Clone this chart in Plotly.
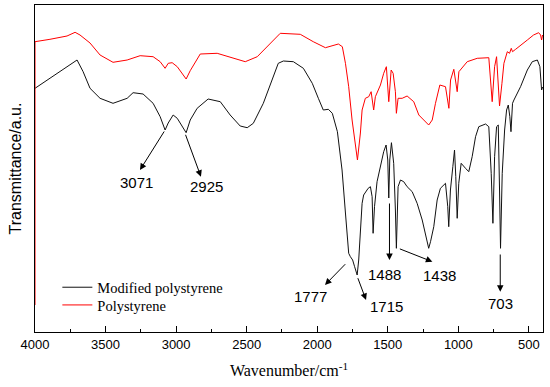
import plotly.graph_objects as go

# Polystyrene (red) spectrum: wavenumber (cm-1), transmittance (a.u.)
ps_wn = [4000, 4000, 3894, 3773, 3716, 3681, 3610, 3539, 3447, 3347, 3255, 3163, 3113, 3078, 3056, 3028,
         2992, 2957, 2929, 2900, 2851, 2829, 2709, 2595, 2510, 2425, 2354, 2262, 2120, 2028, 1942,
         1850, 1822, 1800, 1777, 1753, 1715, 1694, 1682, 1659, 1635, 1618, 1600, 1588, 1552, 1529,
         1510, 1493, 1476, 1462, 1446, 1439, 1427, 1398, 1363, 1316, 1280, 1245, 1210, 1185, 1162,
         1131, 1091, 1067, 1055, 1032, 1008, 996, 937, 866, 784, 760, 743, 729, 708, 691, 677, 653,
         637, 625, 616, 594, 559, 511, 467, 431, 417, 410, 403]
ps_t = [27, 290.3, 292.7, 296, 299.7, 297, 289, 277, 269.7, 272, 276.3, 275.3, 270.3, 263.7, 268.7, 269.3,
        265.3, 258.7, 253, 261.3, 272, 278, 278.7, 273.7, 270.3, 275.3, 285.3, 298.7, 297.7, 290.3, 284.3,
        288, 285.3, 268.7, 245.3, 212, 172, 199, 222, 233.7, 235.3, 240.3, 222, 235.3, 247, 258.7,
        265.3, 230.3, 262, 258.7, 240.3, 218.7, 233.7, 233.7, 236, 230.3, 217, 212, 207, 212, 228.7,
        247, 245.3, 223.7, 252, 262.7, 240.3, 260.3, 270.3, 273.7, 274.3, 230.3, 265.3, 275.3, 226, 248.7, 268.7, 280.3,
        278.7, 283.7, 280.3, 282.7, 287, 292, 297, 299.3, 297, 292, 297]

# Modified polystyrene (black) spectrum
mps_wn = [4000, 3894, 3773, 3702, 3659, 3610, 3539, 3447, 3347, 3305, 3234, 3163, 3113, 3078, 3056, 3021,
          2992, 2957, 2929, 2900, 2851, 2773, 2687, 2617, 2546, 2496, 2453, 2382, 2318, 2276, 2240,
          2169, 2098, 2035, 1992, 1957, 1921, 1893, 1857, 1824, 1800, 1777, 1765, 1749, 1735, 1717,
          1706, 1694, 1682, 1671, 1654, 1639, 1623, 1611, 1604, 1594, 1576, 1552, 1529, 1512, 1500,
          1493, 1486, 1474, 1458, 1446, 1439, 1427, 1410, 1387, 1363, 1327, 1292, 1256, 1233, 1221,
          1210, 1197, 1174, 1150, 1127, 1091, 1075, 1068, 1056, 1039, 1027, 1018, 1008, 997, 980,
          949, 926, 902, 878, 855, 807, 784, 767, 755, 743, 729, 717, 708, 701, 689, 672, 658, 646,
          635, 627, 616, 606, 559, 511, 476, 440, 422, 410, 403]
mps_t = [243.7, 253.7, 265.3, 272, 260.3, 243.7, 233.7, 228.7, 233.7, 239.3, 238, 228.7, 215.3, 202, 209, 217,
         213.7, 205.3, 199.3, 212, 223.7, 233, 230.3, 217, 206, 204.3, 208.7, 228.7, 252, 268.7, 271,
         270.3, 263.7, 248.7, 233.7, 222, 222.7, 218.7, 200.3, 162, 119, 78.7, 75.3, 72, 65.3, 57,
         72, 102, 128.7, 137, 140.3, 143.7, 145.3, 135.3, 98.7, 125.3, 150.3, 167, 180.3, 187, 172,
         134, 172, 189.3, 168.7, 122, 83.7, 145.3, 152, 150.3, 145.3, 140.3, 128.7, 112, 97, 88.7,
         83.7, 90.3, 105.3, 132, 143.7, 148.7, 125.3, 105.3, 142, 165.3, 182, 155.3, 113.7, 148.7, 168.7,
         163.7, 160.3, 175.3, 195.3, 205.3, 208, 205.3, 158.7, 108.7, 175.3, 205.3, 207, 142, 83.7, 158.7, 202, 222, 227,
         215.3, 200.3, 228.7, 232, 245.3, 262, 270.3, 272, 265.3, 242, 245]

# Peak annotations: label, arrow tail (on spectrum), arrow head, label position
peak_labels = ["3071", "2925", "1777", "1715", "1488", "1438", "703"]
tail_wn = [3078, 2937, 1791, 1716, 1488, 1425, 703]
tail_t = [202, 198.7, 69.3, 55.3, 130, 83.7, 79]
head_wn = [3256, 2824, 1945, 1654, 1488, 1184, 703]
head_t = [162, 155.3, 47, 32, 72, 70.3, 40.3]
label_wn = [3279, 2783, 2051, 1508, 1520, 1130, 700]
label_t = [149.3, 145.3, 35.3, 26, 57.7, 57, 28.7]

fig = go.Figure()
fig.add_trace(go.Scatter(x=mps_wn, y=mps_t, mode="lines", name="Modified polystyrene",
                         line=dict(color="#111111", width=1), legend="legend"))
fig.add_trace(go.Scatter(x=ps_wn, y=ps_t, mode="lines", name="Polystyrene",
                         line=dict(color="#ff0000", width=1), legend="legend2"))

annotations = []
for lab, tx, ty, hx, hy, lx, ly in zip(peak_labels, tail_wn, tail_t, head_wn, head_t, label_wn, label_t):
    annotations.append(dict(x=hx, y=hy, ax=tx, ay=ty, xref="x", yref="y", axref="x", ayref="y",
                            text="", showarrow=True, arrowhead=2, arrowsize=1.3, arrowwidth=1,
                            arrowcolor="black", standoff=0, startstandoff=0))
    annotations.append(dict(x=lx, y=ly, xref="x", yref="y", text=lab, showarrow=False,
                            font=dict(family="Liberation Sans, Arial", size=15, color="black")))

legend_style = dict(xanchor="left", yanchor="top",
                    font=dict(family="Liberation Serif", size=14.5, color="black"),
                    bgcolor="rgba(0,0,0,0)", itemwidth=30)

fig.update_layout(
    width=550, height=387,
    margin=dict(l=35, r=7, t=5, b=55),
    paper_bgcolor="white", plot_bgcolor="white",
    showlegend=True,
    legend=dict(x=0.044, y=0.1856, **legend_style),
    legend2=dict(x=0.044, y=0.1315, **legend_style),
    annotations=annotations,
    xaxis=dict(range=[4000, 400], showgrid=False, zeroline=False,
               showline=True, linecolor="black", linewidth=1, mirror=True,
               ticks="inside", ticklen=6, tickwidth=1, tickcolor="black",
               tick0=500, dtick=500,
               minor=dict(ticks="inside", ticklen=3, dtick=250, tickcolor="black", showgrid=False),
               tickfont=dict(family="Liberation Sans", size=13, color="black"),
               title=dict(text="Wavenumber/cm<sup>-1</sup>", standoff=14,
                          font=dict(family="Liberation Serif", size=16, color="black")),
               automargin=False, layer="below traces"),
    yaxis=dict(range=[0, 327], showgrid=False, zeroline=False, showticklabels=False,
               showline=True, linecolor="black", linewidth=1, mirror=True, ticks="",
               title=dict(text="Transmittance/a.u.", standoff=8,
                          font=dict(family="Liberation Sans", size=16, color="black")),
               automargin=False, layer="below traces"),
)

fig.write_html("out.html", config={"displayModeBar": False},
               post_script="document.body.style.margin='0';")
